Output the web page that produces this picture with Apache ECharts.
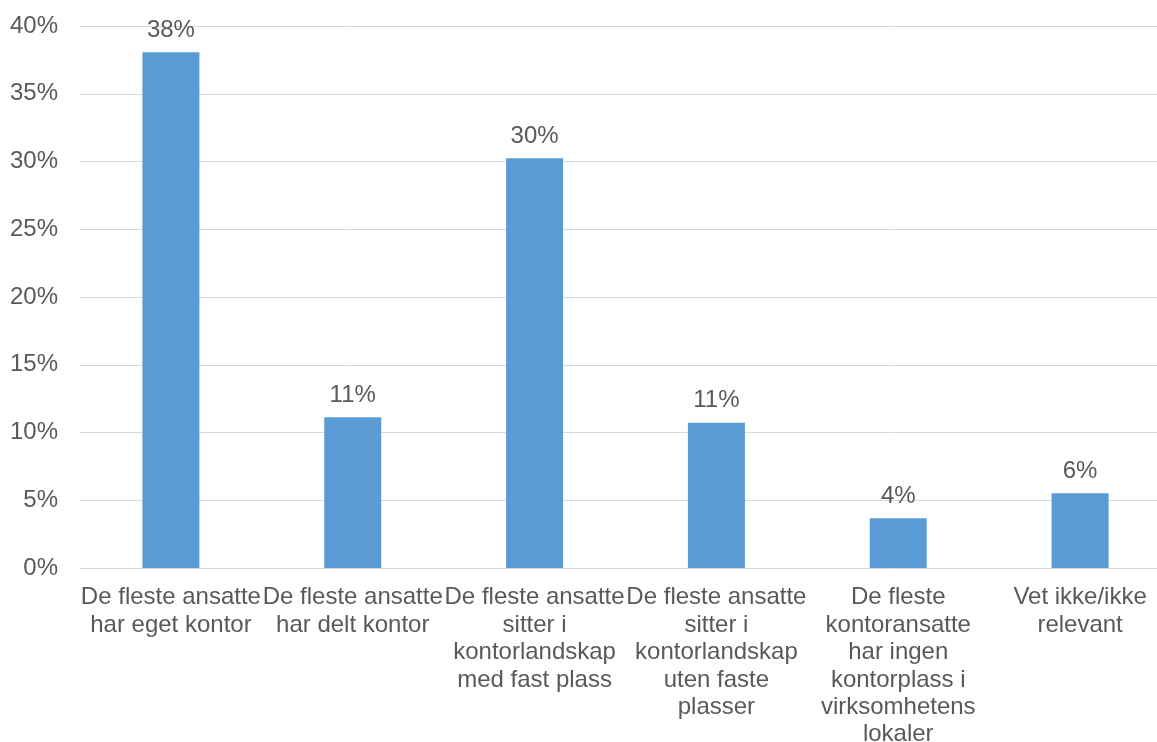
<!DOCTYPE html>
<html>
<head>
<meta charset="utf-8">
<script src="https://cdn.jsdelivr.net/npm/echarts@6/dist/echarts.min.js"></script>
<style>
  html, body { margin: 0; padding: 0; background: #fff; }
  #chart { width: 1157px; height: 742px; }
</style>
</head>
<body>
<div id="chart"></div>
<script>
const categories = [
  "De fleste ansatte\nhar eget kontor",
  "De fleste ansatte\nhar delt kontor",
  "De fleste ansatte\nsitter i\nkontorlandskap\nmed fast plass",
  "De fleste ansatte\nsitter i\nkontorlandskap\nuten faste\nplasser",
  "De fleste\nkontoransatte\nhar ingen\nkontorplass i\nvirksomhetens\nlokaler",
  "Vet ikke/ikke\nrelevant"
]
const shares = [38.06, 11.12, 30.24, 10.72, 3.67, 5.52]
const yTicks = [0, 5, 10, 15, 20, 25, 30, 35, 40]

const textColor = "#595959"
const font = "'Liberation Sans', Arial, sans-serif"

const chart = echarts.init(document.getElementById("chart"))

// the plot runs past the right edge of the picture, as in the cropped original
chart.setOption({
  backgroundColor: "#fff",
  animation: false,
  grid: {
    left: 80, top: 26, bottom: 174, width: 1091,
    outerBoundsMode: "none", containLabel: false
  },
  xAxis: {
    type: "category",
    data: categories,
    axisLine: { lineStyle: { color: "#d9d9d9", width: 1 } },
    axisTick: { show: false },
    axisLabel: {
      interval: 0,
      color: textColor,
      fontFamily: font,
      fontSize: 24,
      lineHeight: 27.4,
      margin: 16,
      align: "center",
      hideOverlap: false
    }
  },
  yAxis: {
    type: "value",
    min: yTicks[0],
    max: yTicks[yTicks.length - 1],
    interval: 5,
    axisLine: { show: false },
    axisTick: { show: false },
    splitLine: { lineStyle: { color: "#d9d9d9", width: 1 } },
    axisLabel: {
      color: textColor,
      fontFamily: font,
      fontSize: 24,
      margin: 22,
      formatter: v => v + "%"
    }
  },
  series: [
    {
      type: "bar",
      data: shares,
      barWidth: 57,
      itemStyle: { color: "#5b9bd5" },
      label: {
        show: true,
        position: "top",
        distance: 10,
        color: textColor,
        fontFamily: font,
        fontSize: 24,
        formatter: p => Math.round(p.value) + "%"
      }
    }
  ]
})
</script>
</body>
</html>
